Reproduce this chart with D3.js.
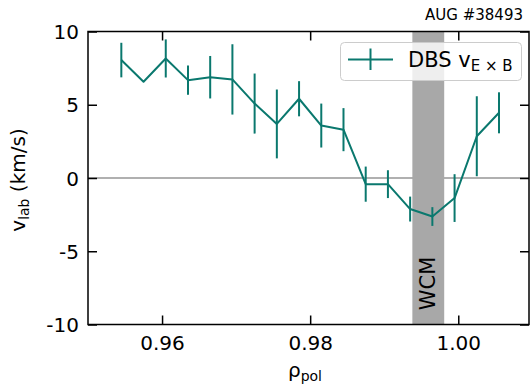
<!DOCTYPE html>
<html>
<head>
<meta charset="utf-8">
<script src="https://cdn.jsdelivr.net/npm/d3@7"></script>
<style>
  html, body { margin: 0; padding: 0; background: #fff; }
  svg { display: block; }
  text { font-family: "DejaVu Sans", sans-serif; fill: #000; }
</style>
</head>
<body>
<svg id="chart" width="532" height="386"></svg>
<script>
// ---- data ----
const rho = [0.9545, 0.9575, 0.9605, 0.9635, 0.9665, 0.9695, 0.9725, 0.9755, 0.9785,
             0.9815, 0.9845, 0.9875, 0.9905, 0.9935, 0.9965, 0.9995, 1.0025, 1.0055];
const vlab = [8.05, 6.57, 8.16, 6.68, 6.88, 6.73, 5.08, 3.69, 5.41,
              3.58, 3.30, -0.42, -0.42, -2.12, -2.63, -1.37, 2.85, 4.45];
const verr = [1.18, 0, 1.30, 1.00, 1.45, 2.40, 2.05, 2.35, 1.20,
              1.50, 1.47, 1.20, 0.95, 0.85, 0.64, 1.63, 2.73, 1.40];
const wcmBand = [0.9938, 0.9981];
const xTicks = [0.96, 0.98, 1.00];
const yTicks = [-10, -5, 0, 5, 10];
const title = "AUG #38493";

// ---- layout ----
const svg = d3.select("#chart");
const L = 88, R = 529, T = 31.5, B = 324.5;
const teal = "#0a786e";
const x = d3.scaleLinear().domain([0.95, 1.00955]).range([L, R]);
const y = d3.scaleLinear().domain([-10, 10]).range([B, T]);

// zero line
svg.append("line")
  .attr("x1", L).attr("x2", R)
  .attr("y1", y(0)).attr("y2", y(0))
  .attr("stroke", "#b0b0b0").attr("stroke-width", 2);

// WCM band
svg.append("rect")
  .attr("x", x(wcmBand[0])).attr("y", T)
  .attr("width", x(wcmBand[1]) - x(wcmBand[0]))
  .attr("height", B - T)
  .attr("fill", "#a8a8a8");

const bandMid = (x(wcmBand[0]) + x(wcmBand[1])) / 2;
svg.append("text")
  .attr("transform", `translate(${bandMid + 7},${y(-7.2)}) rotate(-90)`)
  .attr("text-anchor", "middle")
  .attr("font-size", 21)
  .text("WCM");

// error bars
svg.append("g").selectAll("line")
  .data(rho.map((r, i) => ({ r, v: vlab[i], e: verr[i] })).filter(d => d.e > 0))
  .join("line")
  .attr("x1", d => x(d.r)).attr("x2", d => x(d.r))
  .attr("y1", d => y(d.v + d.e)).attr("y2", d => y(d.v - d.e))
  .attr("stroke", teal).attr("stroke-width", 2);

// data line
svg.append("path")
  .datum(rho.map((r, i) => [r, vlab[i]]))
  .attr("fill", "none")
  .attr("stroke", teal).attr("stroke-width", 2)
  .attr("stroke-linejoin", "round")
  .attr("d", d3.line().x(d => x(d[0])).y(d => y(d[1])));

// axes
const fmtX = d3.format(".2f");
const gB = svg.append("g").attr("transform", `translate(0,${B})`)
  .call(d3.axisBottom(x).tickValues(xTicks).tickFormat(fmtX).tickSizeInner(-9).tickSizeOuter(0).tickPadding(11));
const gLft = svg.append("g").attr("transform", `translate(${L},0)`)
  .call(d3.axisLeft(y).tickValues(yTicks).tickFormat(d => String(d)).tickSizeInner(-9).tickSizeOuter(0).tickPadding(9));
const gTop = svg.append("g").attr("transform", `translate(0,${T})`)
  .call(d3.axisTop(x).tickValues(xTicks).tickFormat("").tickSizeInner(-9).tickSizeOuter(0));
const gRgt = svg.append("g").attr("transform", `translate(${R},0)`)
  .call(d3.axisRight(y).tickValues(yTicks).tickFormat("").tickSizeInner(-9).tickSizeOuter(0));
[gB, gLft, gTop, gRgt].forEach(g => {
  g.selectAll("path.domain").remove();
  g.selectAll(".tick line").attr("stroke", "#000").attr("stroke-width", 1.5);
  g.selectAll(".tick text").attr("font-size", 20).attr("font-family", "DejaVu Sans").attr("fill", "#000");
});
gLft.selectAll(".tick text").attr("dy", "0.36em");
// frame
svg.append("rect")
  .attr("x", L).attr("y", T).attr("width", R - L).attr("height", B - T)
  .attr("fill", "none").attr("stroke", "#000").attr("stroke-width", 1.5);

// axis labels
const xl = svg.append("text")
  .attr("x", 305).attr("y", 377)
  .attr("text-anchor", "middle").attr("font-size", 20);
xl.append("tspan").text("ρ");
xl.append("tspan").attr("font-size", 14).attr("dy", 4).text("pol");

const yl = svg.append("text")
  .attr("transform", `translate(25,${(T + B) / 2 + 2}) rotate(-90)`)
  .attr("text-anchor", "middle").attr("font-size", 20);
yl.append("tspan").text("v");
yl.append("tspan").attr("font-size", 14).attr("dy", 4).text("lab");
yl.append("tspan").attr("dy", -4).text(" (km/s)");

// title
svg.append("text")
  .attr("x", 523).attr("y", 20)
  .attr("text-anchor", "end").attr("font-size", 15)
  .text(title);

// legend
const lg = svg.append("g");
lg.append("rect")
  .attr("x", 340.5).attr("y", 42.5).attr("width", 181).attr("height", 38)
  .attr("rx", 4).attr("ry", 4)
  .attr("fill", "#fff").attr("fill-opacity", 0.8)
  .attr("stroke", "#cccccc").attr("stroke-width", 1);
lg.append("line").attr("x1", 348).attr("x2", 393).attr("y1", 59.5).attr("y2", 59.5)
  .attr("stroke", teal).attr("stroke-width", 2);
lg.append("line").attr("x1", 370.5).attr("x2", 370.5).attr("y1", 48.5).attr("y2", 70)
  .attr("stroke", teal).attr("stroke-width", 2);
const lt = lg.append("text").attr("x", 408).attr("y", 67).attr("font-size", 21);
lt.append("tspan").text("DBS v");
lt.append("tspan").attr("font-size", 15).attr("dy", 4).text("E × B");
</script>
</body>
</html>
